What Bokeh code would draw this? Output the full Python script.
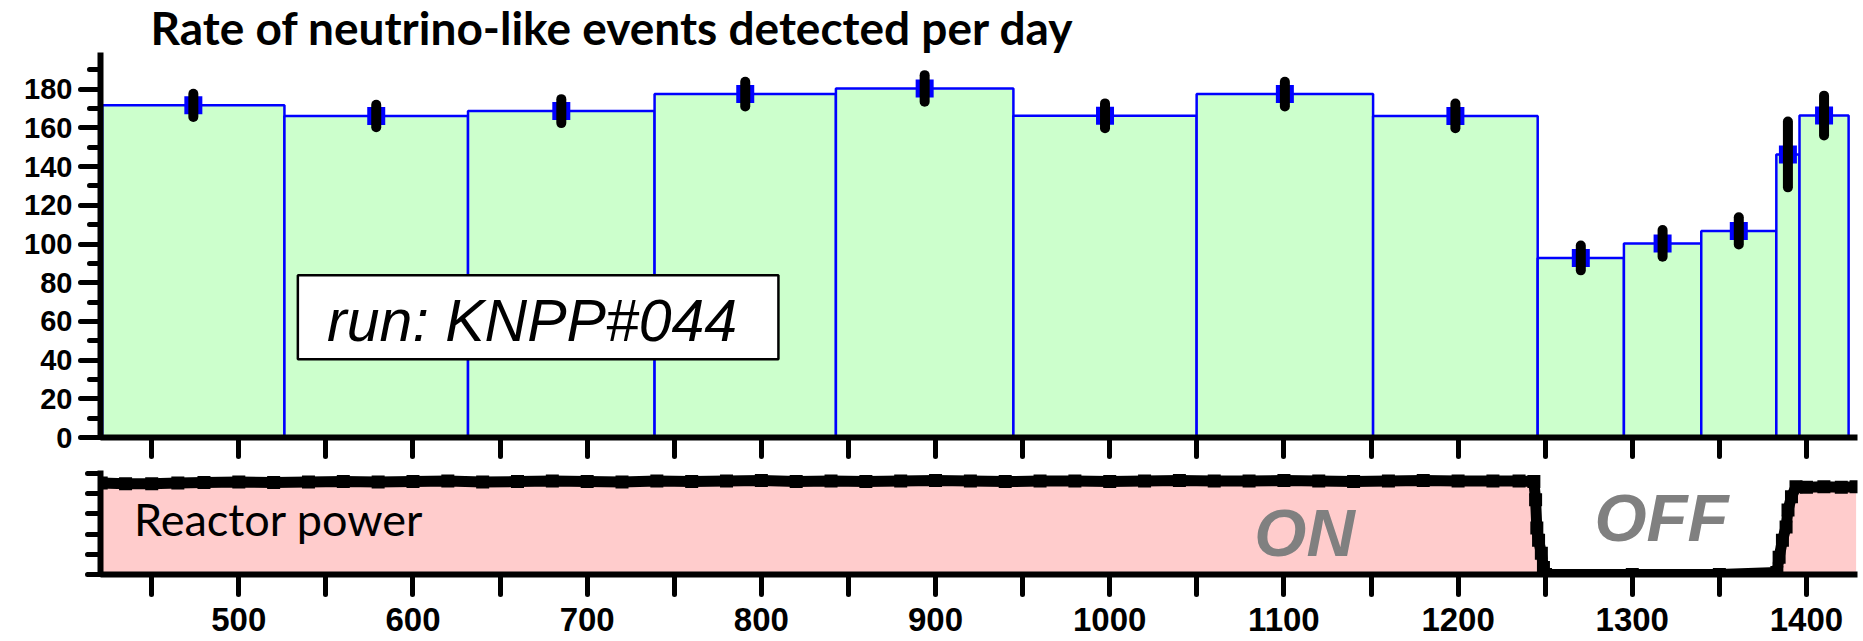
import numpy as np
from bokeh.plotting import figure
from bokeh.models import Range1d, FixedTicker, Label, BoxAnnotation, ColumnDataSource
from bokeh.layouts import column
from bokeh.embed import file_html
from bokeh.resources import INLINE
from bokeh.core.properties import value

# ---------------- data ----------------
bin_edges = [421.6, 526.2, 631.6, 738.7, 842.8, 944.7, 1049.9, 1151.2,
             1245.7, 1295.2, 1339.6, 1382.7, 1396.0, 1424.2]
rate = [171.7, 166.2, 168.7, 177.5, 180.4, 166.3, 177.5, 166.2,
        92.8, 100.3, 106.8, 146.3, 166.4]
rate_err = [6.0, 5.8, 6.2, 6.4, 6.9, 6.4, 6.4, 6.4,
            6.4, 6.9, 7.0, 17.0, 10.3]

power_day = [421, 435, 450, 465, 480, 500, 520, 540, 560, 580,
             600, 620, 640, 660, 680, 700, 720, 740, 760, 780,
             800, 820, 840, 860, 880, 900, 920, 940, 960, 980,
             1000, 1020, 1040, 1060, 1080, 1100, 1120, 1140, 1160, 1180,
             1200, 1220, 1235, 1243.5,
             1244.5, 1245.2, 1246.2, 1247.8, 1249.0, 1250.2,
             1300, 1350,
             1383.0, 1384.3, 1386.2, 1388.3, 1389.4, 1391.4, 1394.0, 1400, 1410, 1420, 1428.5]
power = [90.5, 90.0, 90.0, 90.5, 91.0, 91.5, 91.0, 91.5, 92.0, 91.5,
         92.0, 92.5, 91.5, 92.0, 92.5, 92.0, 91.5, 92.5, 92.0, 92.5,
         93.0, 92.0, 92.5, 92.0, 92.5, 93.0, 92.5, 92.0, 92.5, 92.5,
         92.0, 92.5, 93.0, 92.5, 92.5, 93.0, 92.5, 92.0, 92.5, 93.0,
         92.5, 92.5, 92.5, 92.0,
         74.0, 46.0, 34.0, 21.0, 7.0, 0.0,
         0.0, 0.0,
         2.0, 17.0, 34.0, 47.0, 64.0, 77.0, 87.0, 86.5, 87.0, 86.5, 87.0]

rate_ticks = [0, 20, 40, 60, 80, 100, 120, 140, 160, 180]
rate_minor_ticks = [10, 30, 50, 70, 90, 110, 130, 150, 170, 190]
day_ticks = [450, 500, 550, 600, 650, 700, 750, 800, 850, 900, 950, 1000,
             1050, 1100, 1150, 1200, 1250, 1300, 1350, 1400]
day_labels = [500, 600, 700, 800, 900, 1000, 1100, 1200, 1300, 1400]
power_ticks = [0, 20, 40, 60, 80, 100]

title_text = "Rate of neutrino-like events detected per day"
run_text = "run: KNPP#044"

# ---------------- derived ----------------
left = bin_edges[:-1]
right = bin_edges[1:]
centers = [(a + b) / 2 for a, b in zip(left, right)]
lo = [r - e for r, e in zip(rate, rate_err)]
hi = [r + e for r, e in zip(rate, rate_err)]
hist_src = ColumnDataSource(dict(left=left, right=right, top=rate, x=centers, lo=lo, hi=hi))
pow_src = ColumnDataSource(dict(x=power_day, y=power, z=[0] * len(power)))

x_range = Range1d(420.6, 1429.3)

AXIS_FONT = "Liberation Sans"

def style_axes(p):
    p.outline_line_color = None
    p.xgrid.visible = False
    p.ygrid.visible = False
    p.background_fill_color = "white"
    p.border_fill_color = "white"
    for ax in p.axis:
        ax.axis_line_width = 6
        ax.axis_line_color = "black"
        ax.major_tick_line_width = 5
        ax.major_tick_line_cap = "round"
        ax.minor_tick_line_width = 5
        ax.minor_tick_line_cap = "round"
        ax.major_tick_in = 0
        ax.minor_tick_in = 0
        ax.major_label_text_font = AXIS_FONT
        ax.major_label_text_font_style = "bold"
        ax.major_label_text_color = "black"

# ---------------- top panel ----------------
p1 = figure(width=1863, height=470, x_range=x_range, y_range=Range1d(0, 199),
            output_backend="svg", toolbar_location=None,
            min_border_left=100, min_border_right=6, min_border_top=0, min_border_bottom=33)
p1.title.text = title_text
p1.title.text_font = "Lato"
p1.title.text_font_style = "bold"
p1.title.text_font_size = "46px"
p1.title.text_color = "black"
p1.title.align = "left"
p1.title.offset = 50
p1.title.standoff = -5

p1.quad(left="left", right="right", bottom=0, top="top", source=hist_src,
        fill_color="#CCFFCC", line_color="#0000FF", line_width=2.5)
p1.scatter(x="x", y="top", source=hist_src, marker="square", size=18,
           fill_color="#0000FF", line_color=None)
p1.segment(x0="x", y0="lo", x1="x", y1="hi", source=hist_src,
           line_color="black", line_width=10, line_cap="round")

p1.add_layout(BoxAnnotation(left=533.9, right=809.8, bottom=40.4, top=83.8,
                            fill_color="white", fill_alpha=1.0,
                            line_color="black", line_width=2.5, line_alpha=1.0))
p1.add_layout(Label(x=550.7, y=60.3, text=run_text, text_font="Liberation Sans",
                    text_font_style="italic", text_font_size="59px",
                    text_color="black", text_baseline="middle"))

p1.yaxis.ticker = FixedTicker(ticks=rate_ticks, minor_ticks=rate_minor_ticks)
p1.xaxis.ticker = FixedTicker(ticks=day_ticks, minor_ticks=[])
style_axes(p1)
p1.yaxis.major_tick_out = 20
p1.yaxis.minor_tick_out = 11
p1.yaxis.major_label_text_font_size = "29px"
p1.yaxis.major_label_standoff = 8
p1.xaxis.major_tick_out = 19
p1.xaxis.minor_tick_out = 0
p1.xaxis.major_label_overrides = {t: "" for t in day_ticks}
p1.xaxis.major_label_text_font_size = "1px"
p1.xaxis.major_label_standoff = 0

# ---------------- bottom panel ----------------
p2 = figure(width=1863, height=171, x_range=x_range, y_range=Range1d(0, 103),
            output_backend="svg", toolbar_location=None,
            min_border_left=100, min_border_right=6, min_border_top=0, min_border_bottom=67)
p2.varea(x="x", y1="z", y2="y", source=pow_src, fill_color="#FFCCCC")
p2.line(x="x", y="y", source=pow_src, line_color="black", line_width=11)
p2.scatter(x="x", y="y", source=pow_src, marker="square", size=13,
           fill_color="black", line_color=None)

p2.add_layout(Label(x=439.8, y=55, text="Reactor power", text_font="Lato",
                    text_font_size="45px", text_color="black", text_baseline="middle"))
p2.add_layout(Label(x=1083, y=42, text="ON", text_font="Liberation Sans",
                    text_font_style="bold italic", text_font_size="67px",
                    text_color="#808080", text_baseline="middle"))
p2.add_layout(Label(x=1278.3, y=56, text="OFF", text_font="Liberation Sans",
                    text_font_style="bold italic", text_font_size="67px",
                    text_color="#808080", text_baseline="middle"))

p2.yaxis.ticker = FixedTicker(ticks=power_ticks, minor_ticks=[])
p2.xaxis.ticker = FixedTicker(ticks=day_ticks, minor_ticks=[])
style_axes(p2)
p2.yaxis.major_tick_out = 13
p2.yaxis.major_label_overrides = {t: "" for t in power_ticks}
p2.yaxis.major_label_text_font_size = "1px"
p2.yaxis.major_label_standoff = 0
p2.xaxis.major_tick_out = 20
p2.xaxis.minor_tick_out = 0
p2.xaxis.major_label_overrides = {t: (str(t) if t in day_labels else "") for t in day_ticks}
p2.xaxis.major_label_text_font_size = "33px"
p2.xaxis.major_label_standoff = 13

layout = column(p1, p2, spacing=0)
open("out.html", "w").write(file_html(layout, INLINE))
